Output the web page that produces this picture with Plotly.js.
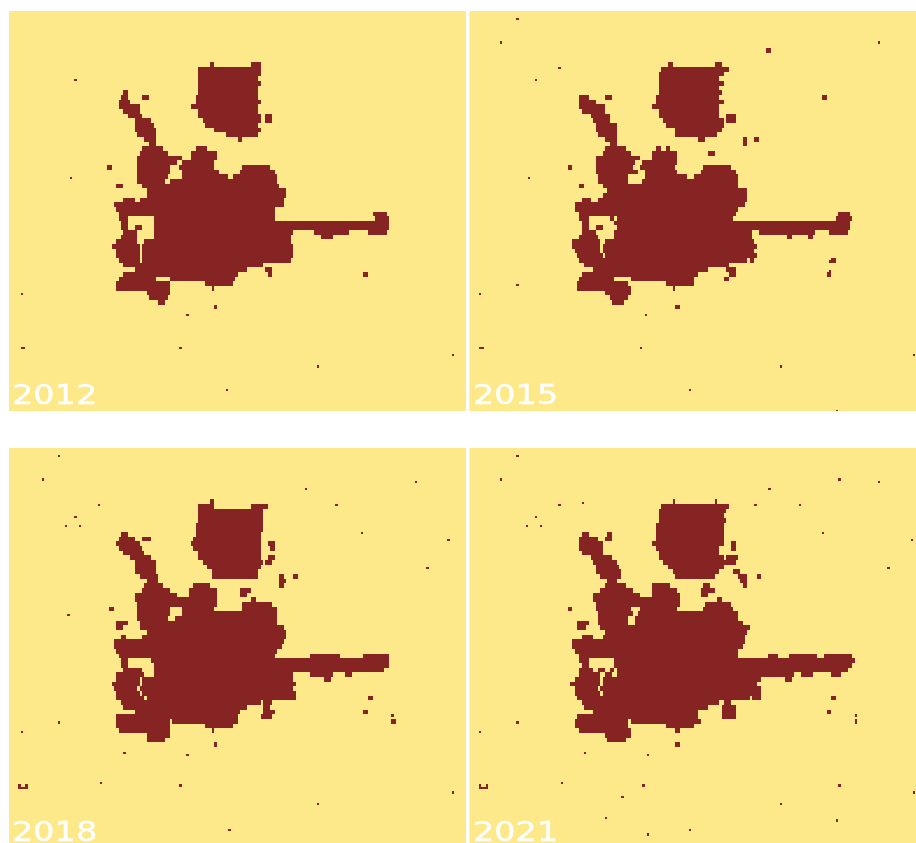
<!DOCTYPE html>
<html><head><meta charset="utf-8">
<script src="https://cdn.plot.ly/plotly-3.0.1.min.js"></script>
<style>
html,body{margin:0;padding:0;background:#fff;overflow:hidden}
#plot{width:916px;height:843px;filter:blur(0.45px)}
.annotation-text{transform-box:fill-box;transform-origin:left center;transform:scaleX(1.24);stroke:#fff;stroke-width:.35px}
</style></head><body><div id="plot"></div>
<script>
const years = ['2012','2015','2018','2021'];
const bg='#FEE98A', fg='#862323';
// each row: [mapY, start, end, start, end, ...] extents of built-up land, in map units
const rows2012 = [
[42,330,338,460,480],[56,298,478],[70,298,478],[84,298,472],[98,298,480],[112,298,472],
[126,72,80,298,472],[140,68,85,130,145,292,472],[154,62,92,292,480],[168,62,118,275,472],
[182,70,118,295,472],[196,90,128,300,480,500,515],[210,105,148,308,480,503,516],[224,108,160,320,472],
[238,108,165,345,480],[252,118,165,378,470],[266,135,165,415,425],[280,148,165],
[294,132,190,290,325],[308,125,205,278,345],[322,112,240,275,350],[336,112,225,245,340],
[350,112,210,240,340,430,510,25,35],[364,112,205,250,355,425,525],[378,118,200,250,385,405,530],
[392,118,195,215,530],[406,55,70,130,535],[420,140,555],[434,145,555],[448,70,105,120,550],
[462,45,552],[476,50,525],[490,60,525,825,860],[504,60,82,165,520,830,865],[518,65,80,165,865],
[532,65,80,105,125,165,865],[546,70,110,165,575,650,750,805,855],[560,65,110,165,570,670,695],
[574,55,112,135,570],[588,40,118,130,578],[602,55,118,130,575],[616,55,120,130,580],
[630,60,118,130,560,565,570],[644,70,490],[658,105,440,500,515],[672,70,410,505,515,795,805],
[686,60,165,210,400],[700,50,205,320,395],[714,50,205,338,345],[728,140,205],[742,150,205],[756,180,195],[770,345,350]
];
const rows2015 = [
[0,622,632],[42,328,338,465,485],[56,305,505],[70,300,490],[84,300,478],[98,298,490],[112,298,478],
[126,298,485],[140,60,85,135,155,295,478,788,798],[154,60,105,292,490],[168,62,130,280,478],
[182,70,130,300,478],[196,95,145,302,480,505,525],[210,105,150,310,490,505,525],[224,110,165,320,485],
[238,108,165,345,480],[252,118,168,350,470],[266,135,168,415,430,548,562,588,598],[280,150,168,548,558],
[294,135,195,295,300,320,328],[308,130,210,275,350,445,460],[322,108,240,275,352],[336,112,225,250,345],
[350,112,215,240,340,435,510,28,38],[364,112,210,218,232,255,350,425,520],[378,118,205,258,380,405,530],
[392,118,200,250,530],[406,58,72,130,535],[420,145,560],[434,130,160,168,560],[448,70,90,120,560],
[462,45,555],[476,50,70,75,530],[490,60,525,835,870],[504,60,85,150,160,170,520,830,875],[518,65,85,165,870],
[532,65,85,110,125,170,870],[546,68,105,165,575,600,760,810,860],[560,60,110,165,575,685,695,750,755],
[574,40,118,135,580],[588,40,118,130,590],[602,50,120,132,580],[616,55,122,140,585],
[630,60,560,570,580,815,825],[644,75,500],[658,105,440,505,525],[672,70,410,510,525,800,810],
[686,60,165,215,400,495,505],[700,55,205,320,395],[714,55,210,340,345],[728,140,210],[742,150,205],[756,160,190],[770,348,355]
];
const rows2018 = [
[28,335,345],[42,300,340,460,500],[56,300,490],[70,298,490],[84,295,490],[98,292,490],[112,292,490],
[126,65,80,290,485],[140,60,100,130,150,285,480],[154,55,115,275,480,508,522],[168,60,125,285,480,515,522],
[182,70,130,295,480],[196,95,150,300,480,505,525],[210,110,165,310,490,500,520],[224,105,165,325,480],
[238,108,170,340,475],[252,120,170,340,470,545,555,585,592],[266,140,170,545,556],
[280,135,190,280,325,545,555],[294,130,205,270,345,425,452],[308,105,230,270,350,420,435],[322,110,350,460,470],
[336,112,345,430,520],[350,112,210,245,340,28,38,430,530],[364,115,212,245,530],[378,118,205,225,530],
[392,55,80,120,530],[406,55,70,125,550],[420,140,555],[434,65,75,130,555],[448,45,550],[462,42,545],[476,50,530],
[490,60,525,630,720,795,865],[504,65,85,160,870],[518,65,85,165,865],[532,70,100,105,125,165,850],
[546,55,110,115,135,165,580,630,700,740,755],[560,50,115,130,580,675,690],[574,40,118,130,585],[588,45,112,125,580],
[602,55,118,130,585],[616,55,130,140,585,808,818],[630,65,480,490,515],[644,75,440,490,510],
[658,105,415,490,520,795,805],[672,55,415,485,520],[686,50,205,220,410,880,885],[700,50,205,320,395],
[714,60,205,338,345],[728,140,205],[742,145,195],[756,345,350]
];
const rows2021 = [
[28,340,345,465,470],[42,305,505],[56,300,495],[70,298,490],[84,298,495],[98,295,490],[112,295,490],
[126,65,85,148,155,292,490],[140,60,112,135,155,290,490],[154,60,130,275,490,515,525],[168,62,125,295,480,515,525],
[182,65,125,298,480],[196,95,155,300,490,505,535],[210,105,165,310,500,505,525],[224,110,170,325,490],
[238,110,178,340,475,520,535],[252,125,178,350,460,540,562,590,598],[266,145,165,545,562],
[280,135,195,280,330,430,445,548,560],[294,125,215,275,350,425,460],[308,105,240,275,355,425,440],[322,100,355,475,485],
[336,112,355,440,510],[350,112,210,245,350,28,38,430,520],[364,115,215,235,530],[378,118,200,228,535],
[392,55,80,120,205,228,545],[406,55,75,125,565],[420,140,560],[434,70,100,130,555],[448,40,550],[462,42,545],[476,45,535],
[490,60,530,630,650,690,770,795,875],[504,60,85,165,880],[518,65,85,165,875],[532,60,90,95,100,120,135,155,160,170,860],
[546,60,120,135,150,170,600,610,700,725,755,820,840],[560,50,120,130,600,675,690],[574,35,120,130,590],[588,45,112,125,600],
[602,50,120,130,605],[616,55,130,140,565,580,600,815,825],[630,65,475,495,510],[644,75,440,485,525],
[658,100,415,490,525,800,810],[672,55,415,490,525],[686,50,205,215,415,885,892],[700,50,205,320,395],
[714,60,210,345,358],[728,140,210],[742,145,195],[756,345,355]
];
// isolated built-up cells, read as picture positions
const dots2012 = [[76,80],[70,177],[21,295],[21,347],[23,347],[22,349],[181,349],[319,367],[228,391],[453,355],[187,316],[366,273]];
const dots2015 = [[518,19],[502,42],[769,52],[880,43],[536,80],[560,68],[529,177],[824,97],[481,295],[481,347],[483,347],[482,349],[518,285],[641,349],[691,391],[781,367],[838,410],[913,355],[646,316],[831,261],[829,272]];
const dots2018 = [[58,457],[42,479],[99,505],[76,517],[67,527],[81,527],[307,489],[337,505],[362,533],[417,481],[449,541],[69,614],[428,567],[58,721],[21,732],[366,710],[371,698],[393,716],[124,752],[188,754],[216,744],[101,782],[181,786],[318,804],[229,829],[453,792],[19,787],[21,787],[23,787],[25,787],[27,787],[20,784],[26,784]];
const dots2021 = [[518,457],[502,479],[560,505],[583,503],[537,517],[527,527],[541,527],[769,489],[755,505],[799,505],[824,533],[840,479],[879,481],[912,541],[889,567],[518,721],[481,732],[833,698],[828,710],[856,716],[585,752],[649,754],[677,744],[562,782],[643,786],[840,784],[915,792],[622,797],[780,804],[606,817],[836,821],[691,829],[647,835],[479,787],[481,787],[483,787],[485,787],[487,787],[480,784],[486,784]];
const allRows=[rows2012,rows2015,rows2018,rows2021], allDots=[dots2012,dots2015,dots2018,dots2021];

const W=916,H=843,SC=3,CELL=7;
const frames=[
 {l:9,t:11,r:466,b:411,ox:100,oy:50},
 {l:469.5,t:11,r:916,b:411,ox:560,oy:50},
 {l:9,t:448,r:466,b:843,ox:100,oy:490},
 {l:469.5,t:448,r:916,b:843,ox:560,oy:490}];
const data=[],layout={width:W,height:H,margin:{l:0,r:0,t:0,b:0},paper_bgcolor:'#fff',plot_bgcolor:bg,showlegend:false,annotations:[]};
frames.forEach((f,i)=>{
  const uMin=(f.l-f.ox)*SC,uMax=(f.r-f.ox)*SC,vMin=(f.t-f.oy)*SC,vMax=(f.b-f.oy)*SC;
  const nc=Math.ceil((uMax-uMin)/CELL),nr=Math.ceil((vMax-vMin)/CELL);
  const z=Array.from({length:nr},()=>new Array(nc).fill(0));
  const paint=(u,v)=>{const c=Math.floor((u-uMin)/CELL),r=Math.floor((v-vMin)/CELL);if(r>=0&&r<nr&&c>=0&&c<nc)z[r][c]=1;};
  allRows[i].forEach(row=>{
    for(let k=1;k<row.length;k+=2)
      for(let u=row[k];u<row[k+1];u+=CELL/2)
        for(let v=row[0];v<row[0]+14;v+=CELL) paint(u,v);
  });
  allDots[i].forEach(d=>paint((d[0]-f.ox)*SC,(d[1]-f.oy)*SC));
  const s=i?String(i+1):'';
  data.push({type:'heatmap',z:z,x0:uMin+CELL/2,dx:CELL,y0:vMin+CELL/2,dy:CELL,xaxis:'x'+s,yaxis:'y'+s,zmin:0,zmax:1,zsmooth:false,
    colorscale:[[0,bg],[1,fg]],showscale:false,hoverinfo:'skip'});
  const ax={showgrid:false,zeroline:false,showticklabels:false,ticks:'',showline:false};
  layout['xaxis'+s]=Object.assign({},ax,{domain:[f.l/W,f.r/W],range:[uMin,uMax],anchor:'y'+s});
  layout['yaxis'+s]=Object.assign({},ax,{domain:[1-f.b/H,1-f.t/H],range:[vMax,vMin],anchor:'x'+s});
  const textBottom=i<2?f.t+400:f.t+400;
  layout.annotations.push({xref:'paper',yref:'paper',x:(f.l+2)/W,y:1-textBottom/H,xanchor:'left',yanchor:'bottom',
    text:years[i],showarrow:false,font:{family:'DejaVu Sans',size:27,color:'#fff'},borderpad:0});
});
Plotly.newPlot('plot',data,layout,{displayModeBar:false,staticPlot:true});
</script></body></html>
